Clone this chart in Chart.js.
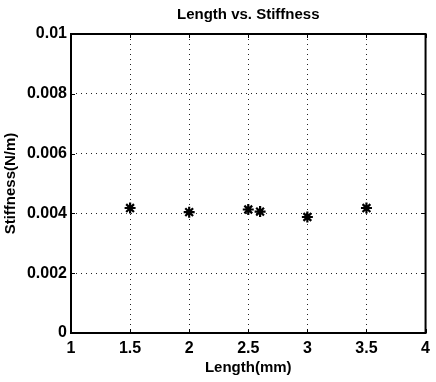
<!DOCTYPE html>
<html>
<head>
<meta charset="utf-8">
<script src="https://cdn.jsdelivr.net/npm/chart.js@4"></script>
<style>
html,body{margin:0;padding:0;background:#fff;}
#wrap{width:436px;height:382px;}
</style>
</head>
<body>
<div id="wrap"><canvas id="c" width="436" height="382"></canvas></div>
<script>
const chartTitle = 'Length vs. Stiffness';
const xTitle = 'Length(mm)';
const yTitle = 'Stiffness(N/m)';
const lengths = [1.5, 2, 2.5, 2.6, 3, 3.5];
const stiffness = [0.00418, 0.00404, 0.00413, 0.00406, 0.00388, 0.00418];
const xTicks = [1, 1.5, 2, 2.5, 3, 3.5, 4];
const xTickLabels = ['1', '1.5', '2', '2.5', '3', '3.5', '4'];
const yTicks = [0, 0.002, 0.004, 0.006, 0.008, 0.01];
const yTickLabels = ['0', '0.002', '0.004', '0.006', '0.008', '0.01'];

const FONT = "'Liberation Sans', Arial, Helvetica, sans-serif";

const framePlugin = {
  id: 'frame',
  afterDatasetsDraw(chart) {
    const {ctx, chartArea: a, scales} = chart;
    ctx.save();
    ctx.strokeStyle = '#000';
    ctx.lineWidth = 1;
    const tl = 4;
    ctx.beginPath();
    xTicks.forEach(v => {
      const x = Math.round(scales.x.getPixelForValue(v)) + 0.5;
      ctx.moveTo(x, a.bottom); ctx.lineTo(x, a.bottom - tl);
      ctx.moveTo(x, a.top); ctx.lineTo(x, a.top + tl);
    });
    yTicks.forEach(v => {
      const y = Math.round(scales.y.getPixelForValue(v)) + 0.5;
      ctx.moveTo(a.left, y); ctx.lineTo(a.left + tl, y);
      ctx.moveTo(a.right, y); ctx.lineTo(a.right - tl, y);
    });
    ctx.stroke();
    ctx.lineWidth = 2;
    ctx.strokeRect(a.left, a.top, a.right - a.left, a.bottom - a.top);
    ctx.restore();
  }
};

new Chart(document.getElementById('c'), {
  type: 'scatter',
  data: {
    datasets: [{
      data: lengths.map((x, i) => ({x: x, y: stiffness[i]})),
      pointStyle: 'star',
      pointRadius: 5.5,
      pointHoverRadius: 5.5,
      pointBorderWidth: 2.2,
      borderColor: '#000',
      backgroundColor: '#000'
    }]
  },
  options: {
    responsive: false,
    animation: false,
    devicePixelRatio: 1,
    layout: {padding: {left: 0, right: 5, top: 0, bottom: 0}},
    plugins: {legend: {display: false}, tooltip: {enabled: false}, title: {display: false}},
    scales: {
      x: {
        type: 'linear', position: 'bottom', min: 1, max: 4,
        afterBuildTicks: s => { s.ticks = xTicks.map(v => ({value: v})); },
        afterFit: s => { s.height = 49; },
        ticks: {
          color: '#000', padding: 6, maxRotation: 0, autoSkip: false,
          font: {family: FONT, size: 16, weight: 'bold'},
          callback: (v, i) => xTickLabels[i]
        },
        grid: {color: '#222', lineWidth: 1, drawTicks: false},
        border: {display: false, dash: [1, 4]},
        title: {display: true, text: xTitle, color: '#000', font: {family: FONT, size: 15, weight: 'bold'}, padding: {top: 0, bottom: 5}}
      },
      x2: {
        type: 'linear', position: 'top', min: 1, max: 4,
        afterFit: s => { s.height = 34; },
        ticks: {display: false},
        grid: {display: false, drawTicks: false},
        border: {display: false},
        title: {display: true, text: chartTitle, color: '#000', font: {family: FONT, size: 15, weight: 'bold'}, padding: {top: 6, bottom: 0}}
      },
      y: {
        type: 'linear', position: 'left', min: 0, max: 0.01,
        afterBuildTicks: s => { s.ticks = yTicks.map(v => ({value: v})); },
        afterFit: s => { s.width = 71; },
        ticks: {
          color: '#000', padding: 4, autoSkip: false,
          font: {family: FONT, size: 16, weight: 'bold'},
          callback: (v, i) => yTickLabels[i]
        },
        grid: {color: '#222', lineWidth: 1, drawTicks: false},
        border: {display: false, dash: [1, 4]},
        title: {display: true, text: yTitle, color: '#000', font: {family: FONT, size: 15, weight: 'bold'}, padding: {top: 2, bottom: 0}}
      }
    }
  },
  plugins: [framePlugin]
});
</script>
</body>
</html>
